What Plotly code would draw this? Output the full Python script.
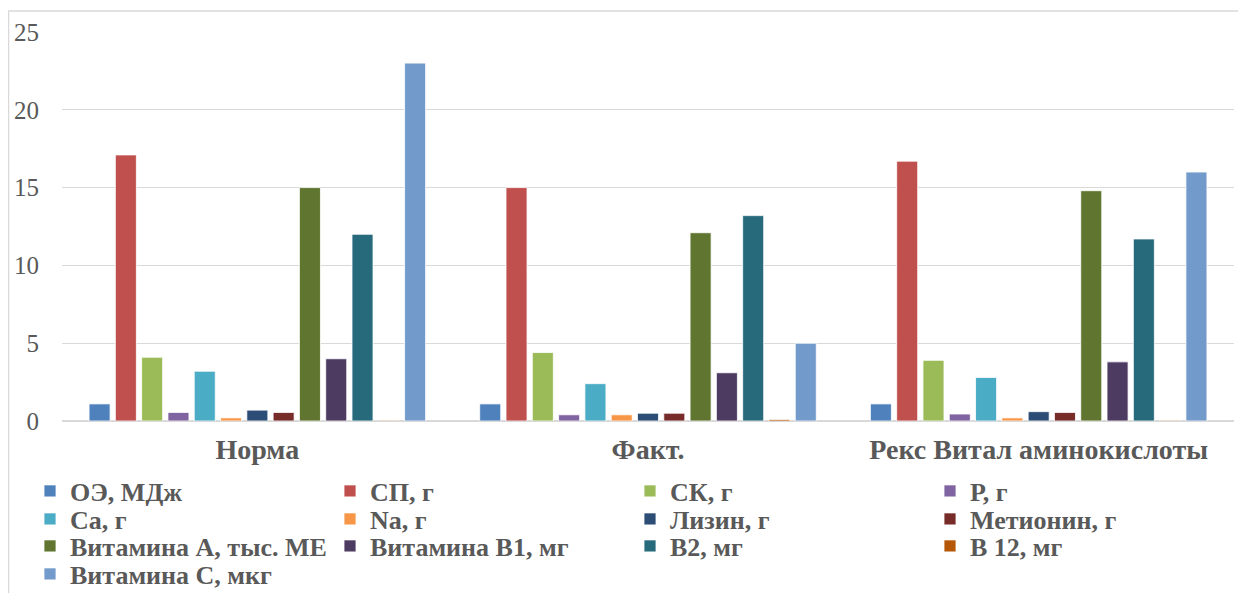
import plotly.graph_objects as go

categories = ["Норма", "Факт.", "Рекс Витал аминокислоты"]

series_names = [
    "ОЭ, МДж", "СП, г", "СК, г", "Р, г",
    "Са, г", "Na, г", "Лизин, г", "Метионин, г",
    "Витамина А, тыс. МЕ", "Витамина В1, мг", "В2, мг", "В 12, мг",
    "Витамина С, мкг",
]

oe = [1.1, 1.1, 1.1]
sp = [17.1, 15.0, 16.7]
sk = [4.1, 4.4, 3.9]
p = [0.55, 0.4, 0.45]
ca = [3.2, 2.4, 2.8]
na = [0.2, 0.4, 0.2]
lizin = [0.7, 0.5, 0.6]
metionin = [0.55, 0.5, 0.55]
vit_a = [15.0, 12.1, 14.8]
vit_b1 = [4.0, 3.1, 3.8]
b2 = [12.0, 13.2, 11.7]
b12 = [0.05, 0.1, 0.05]
vit_c = [23.0, 5.0, 16.0]

series_values = [oe, sp, sk, p, ca, na, lizin, metionin, vit_a, vit_b1, b2, b12, vit_c]

colors = [
    "#4F81BD", "#C0504D", "#9BBB59", "#8064A2",
    "#4BACC6", "#F79646", "#2C4D75", "#772C2A",
    "#5F7530", "#4D3B62", "#276A7C", "#B65708",
    "#729ACA",
]

y_ticks = [0, 5, 10, 15, 20, 25]

FONT = "Liberation Serif, Times New Roman, Tinos, DejaVu Serif, serif"
GREY = "#595959"

# the page body has an 8px margin, so the figure is drawn from (8, 8)
OFF = 8
W, H = 1246 - OFF, 593 - OFF
ML, MR, MT, MB = 62 - OFF, 12, 32 - OFF, 593 - 421
pw = W - ML - MR
ph = H - MT - MB


def px_x(x):
    # page pixel -> paper fraction
    return (x - OFF - ML) / pw


def px_y(y):
    return (H - MB - (y - OFF)) / ph


legend_ids = ["legend", "legend2", "legend3", "legend4"]

fig = go.Figure()
for i, (name, vals, col) in enumerate(zip(series_names, series_values, colors)):
    fig.add_trace(go.Bar(
        x=categories, y=vals, name=name,
        legend=legend_ids[i // 4],
        marker=dict(color=col, line=dict(color="rgba(255,255,255,0.8)", width=1)),
    ))

row_centers = [491, 519, 546, 574]
legend_common = dict(
    orientation="h",
    x=px_x(30), xanchor="left",
    yanchor="middle",
    font=dict(family=FONT, size=26, color=GREY, weight="bold"),
    entrywidth=255, entrywidthmode="pixels",
    traceorder="normal",
    itemclick=False, itemdoubleclick=False,
    bgcolor="rgba(0,0,0,0)",
)
legends = {}
for lid, yc in zip(legend_ids, row_centers):
    legends[lid] = dict(legend_common, y=px_y(yc))

fig.update_layout(
    width=W, height=H,
    margin=dict(l=ML, r=MR, t=MT, b=MB, autoexpand=False),
    paper_bgcolor="white", plot_bgcolor="white",
    barmode="group", bargap=0.125, bargroupgap=0.2,
    font=dict(family=FONT, color=GREY),
    showlegend=True,
    xaxis=dict(
        showgrid=False, showline=False, ticks="",
        tickfont=dict(family=FONT, size=28, color=GREY, weight="bold"),
        ticklabelstandoff=9,
    ),
    yaxis=dict(
        range=[0, 25], tickvals=y_ticks,
        showgrid=True, gridcolor="#D9D9D9", gridwidth=1,
        zeroline=True, zerolinecolor="#D9D9D9", zerolinewidth=1.5,
        showline=False, ticks="",
        tickfont=dict(family=FONT, size=25, color=GREY),
        ticklabelstandoff=22,
    ),
    shapes=[dict(
        type="rect", xref="paper", yref="paper",
        x0=px_x(8.5), x1=px_x(1260), y0=px_y(620), y1=px_y(11),
        line=dict(color="#D9D9D9", width=1.5), fillcolor="rgba(0,0,0,0)",
        layer="below",
    )],
    **legends,
)

fig.write_html("out.html")
